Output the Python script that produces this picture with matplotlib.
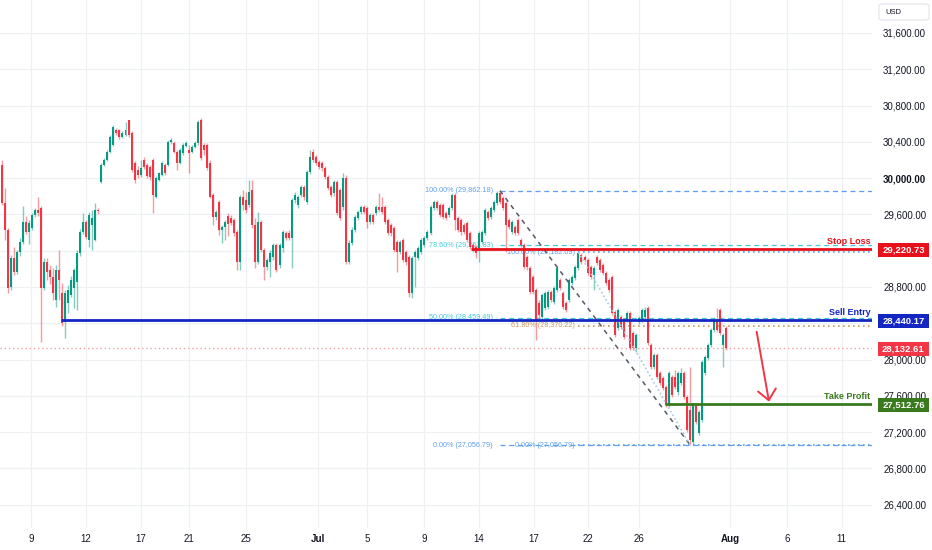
import numpy as np
import matplotlib
matplotlib.use("Agg")
import matplotlib.pyplot as plt
import matplotlib.transforms as mtransforms
from matplotlib.patches import Rectangle, FancyBboxPatch

plt.rcParams['font.family'] = ['Liberation Sans', 'DejaVu Sans']

# ---------------- data ----------------
opens = [30145, 29726, 29428, 28799, 29119, 28965, 29185, 29296, 29516, 29406,
         29450, 29593, 29648, 29670, 28788, 29075, 28987, 28910, 28656, 28987,
         28733, 28413, 28623, 28711, 28788, 28854, 29174, 29406, 29516, 29318,
         29483, 29318, 29648, 29957, 30145, 30200, 30288, 30365, 30531, 30531,
         30453, 30475, 30641, 30498, 30167, 30090, 30034, 30200, 30145, 30123,
         30200, 29792, 29979, 30034, 30145, 30145, 30398, 30387, 30288, 30167,
         30277, 30354, 30310, 30288, 30343, 30387, 30641, 30365, 30365, 30167,
         29814, 29571, 29737, 29428, 29461, 29582, 29560, 29538, 29406, 29075,
         29792, 29759, 29704, 29869, 29483, 29075, 29516, 29207, 29020, 29075,
         29130, 29262, 29042, 29229, 29395, 29395, 29340, 29759, 29704, 29814,
         29902, 29737, 30067, 30288, 30233, 30178, 30167, 30112, 30012, 29902,
         29836, 29957, 29869, 29681, 30001, 29075, 29285, 29428, 29560, 29626,
         29681, 29670, 29516, 29593, 29615, 29681, 29681, 29681, 29538, 29483,
         29450, 29296, 29185, 29318, 29185, 29130, 28733, 29130, 29119, 29185,
         29262, 29340, 29395, 29670, 29737, 29704, 29704, 29615, 29593, 29670,
         29814, 29560, 29538, 29483, 29505, 29395, 29262, 29240, 29229, 29296,
         29395, 29626, 29571, 29648, 29726, 29836, 29781, 29726, 29538, 29406,
         29461, 29538, 29318, 29262, 29130, 29009, 28910, 28766, 28623, 28468,
         28568, 28579, 28744, 28634, 28766, 28876, 28733, 28623, 28656, 28843,
         28899, 29009, 29152, 29130, 29097, 29020, 28932, 29130, 29097, 29042,
         28954, 28876, 28910, 28524, 28347, 28468, 28435, 28435, 28513, 28292,
         28127, 28413, 28435, 28468, 28568, 28160, 27917, 28049, 27851, 27796,
         27697, 27498, 27807, 27807, 27641, 27741, 27851, 27586, 27443, 27090,
         27498, 27189, 27333, 27851, 28016, 28160, 28325, 28435, 28546, 28160,
         28347]
highs = [30200, 29891, 29450, 29152, 29240, 29207, 29340, 29692, 29582, 29538,
         29615, 29670, 29792, 29692, 29119, 29119, 29042, 29009, 29042, 29207,
         28843, 28766, 28821, 28921, 29009, 29207, 29439, 29615, 29538, 29626,
         29648, 29726, 29670, 30167, 30222, 30310, 30475, 30586, 30553, 30542,
         30520, 30619, 30641, 30520, 30189, 30134, 30200, 30233, 30167, 30145,
         30222, 30023, 30067, 30189, 30167, 30420, 30442, 30409, 30310, 30332,
         30387, 30409, 30365, 30365, 30409, 30641, 30663, 30387, 30387, 30200,
         29836, 29648, 29759, 29483, 29538, 29615, 29593, 29560, 29428, 29814,
         29869, 29847, 29979, 29979, 29560, 29626, 29538, 29229, 29119, 29207,
         29285, 29285, 29285, 29428, 29417, 29428, 29781, 29847, 29814, 29924,
         29924, 30090, 30310, 30321, 30255, 30200, 30189, 30134, 30034, 29924,
         29979, 29979, 29891, 30056, 30034, 29318, 29461, 29593, 29648, 29704,
         29704, 29692, 29615, 29615, 29704, 29836, 29792, 29704, 29560, 29505,
         29472, 29318, 29318, 29340, 29207, 29152, 29141, 29207, 29251, 29340,
         29362, 29428, 29704, 29759, 29759, 29726, 29726, 29637, 29692, 29836,
         29836, 29582, 29560, 29505, 29527, 29417, 29285, 29262, 29417, 29428,
         29670, 29648, 29692, 29759, 29858, 29862.18, 29803, 29748, 29560, 29538,
         29483, 29560, 29340, 29285, 29152, 29031, 28932, 28788, 28656, 28733,
         28755, 28766, 28766, 28810, 29031, 28899, 28755, 28645, 28899, 28932,
         29042, 29182.09, 29174, 29152, 29119, 29042, 29031, 29152, 29119, 29064,
         28976, 28899, 28932, 28546, 28568, 28491, 28457, 28535, 28535, 28314,
         28292, 28479, 28568, 28579, 28590, 28182, 28071, 28071, 27873, 27818,
         27719, 27873, 27829, 27884, 27873, 27906, 27873, 27608, 27917, 27520,
         27520, 27443, 27994, 28049, 28182, 28347, 28457, 28568, 28568, 28292,
         28369]
lows = [29704, 29318, 28733, 28766, 28932, 28943, 29141, 29273, 29384, 29273,
        29428, 29571, 29582, 28193, 28766, 28876, 28832, 28656, 28579, 28656,
        28369, 28237, 28513, 28689, 28568, 28546, 29141, 29384, 29329, 29240,
        29207, 29307, 29604, 29946, 30134, 30189, 30277, 30354, 30475, 30431,
        30442, 30464, 30453, 30067, 29946, 30001, 30012, 30101, 30001, 29979,
        29615, 29781, 29968, 30023, 30034, 30134, 30376, 30277, 30090, 30156,
        30255, 30343, 30056, 30277, 30332, 30365, 30200, 30255, 30090, 29781,
        29483, 29538, 29373, 29285, 29318, 29362, 29483, 29362, 28987, 28987,
        29648, 29615, 29681, 29450, 29009, 29053, 29185, 28876, 28987, 28910,
        29097, 28965, 29009, 29185, 29318, 29318, 29009, 29726, 29670, 29792,
        29759, 29715, 30045, 30178, 30145, 30101, 30078, 29990, 29869, 29792,
        29803, 29593, 29538, 29648, 29053, 29053, 29262, 29406, 29538, 29604,
        29604, 29450, 29494, 29494, 29593, 29626, 29604, 29494, 29373, 29362,
        29185, 28965, 29163, 29075, 29042, 28689, 28678, 28799, 29097, 29163,
        29240, 29318, 29373, 29648, 29648, 29571, 29549, 29538, 29571, 29648,
        29428, 29406, 29373, 29384, 29296, 29218, 29185, 29119, 29075, 29273,
        29373, 29538, 29549, 29626, 29704, 29715, 29648, 29185, 29439, 29384,
        29373, 29373, 29240, 28998, 28987, 28722, 28722, 28215, 28457, 28446,
        28546, 28557, 28634, 28612, 28744, 28766, 28557, 28524, 28634, 28821,
        28876, 28987, 29053, 29075, 28932, 28888, 28766, 29042, 28965, 28932,
        28821, 28744, 28491, 28248, 28325, 28336, 28226, 28413, 28105, 28105,
        28083, 28391, 28413, 28435, 28160, 27895, 27895, 27785, 27719, 27664,
        27476, 27476, 27586, 27675, 27608, 27719, 27564, 27200, 27056.79, 27068,
        27289, 27167, 27311, 27829, 27994, 28138, 28303, 28303, 28270, 27917,
        28105]
closes = [29726, 29428, 28788, 29119, 28965, 29185, 29296, 29516, 29406, 29505,
          29593, 29648, 29615, 28788, 29075, 28965, 28910, 28733, 28987, 28876,
          28402, 28733, 28766, 28876, 28987, 29174, 29406, 29516, 29351, 29593,
          29560, 29648, 29637, 30145, 30200, 30288, 30453, 30564, 30498, 30453,
          30498, 30531, 30475, 30090, 29979, 30034, 30112, 30123, 30023, 30012,
          29814, 30001, 30056, 30167, 30056, 30398, 30420, 30288, 30167, 30310,
          30365, 30387, 30277, 30343, 30387, 30619, 30222, 30310, 30112, 29792,
          29571, 29626, 29428, 29461, 29516, 29494, 29505, 29395, 29075, 29792,
          29704, 29648, 29847, 29483, 29075, 29516, 29207, 29020, 29097, 29174,
          29262, 28987, 29262, 29406, 29340, 29340, 29759, 29814, 29792, 29902,
          29792, 30067, 30233, 30200, 30167, 30123, 30112, 30012, 29891, 29814,
          29957, 29615, 29560, 30001, 29075, 29285, 29428, 29571, 29626, 29681,
          29626, 29516, 29593, 29516, 29681, 29648, 29626, 29516, 29395, 29395,
          29207, 29185, 29296, 29097, 29075, 28733, 29119, 29185, 29229, 29318,
          29340, 29406, 29681, 29737, 29670, 29593, 29571, 29560, 29670, 29814,
          29538, 29428, 29406, 29406, 29318, 29240, 29207, 29174, 29395, 29406,
          29648, 29560, 29670, 29737, 29836, 29737, 29670, 29483, 29461, 29516,
          29395, 29395, 29262, 29020, 29020, 28744, 28744, 28435, 28491, 28711,
          28733, 28744, 28656, 28788, 29009, 28788, 28579, 28546, 28876, 28910,
          29020, 29170, 29075, 29097, 28954, 28910, 29009, 29064, 28987, 28954,
          28843, 28766, 28513, 28270, 28546, 28358, 28248, 28513, 28127, 28127,
          28270, 28457, 28546, 28546, 28182, 27917, 28049, 27807, 27741, 27686,
          27498, 27851, 27608, 27697, 27851, 27851, 27586, 27222, 27112, 27520,
          27311, 27421, 27972, 28027, 28160, 28325, 28435, 28325, 28292, 28270,
          28132.61]

x_tick_pos = [9.7, 27.9, 46.1, 62.0, 80.9, 104.7, 120.9, 139.8, 158.0, 176.3,
              194.1, 211.0, 241.2, 260.0, 278.2]
x_tick_labels = ['9', '12', '17', '21', '25', 'Jul', '5', '9', '14', '17',
                 '22', '26', 'Aug', '6', '11']
y_ticks = [26400, 26800, 27200, 27600, 28000, 28400, 28800, 29200, 29600,
           30000, 30400, 30800, 31200, 31600]
# tick labels that the price tags cover completely in the chart
y_ticks_hidden = [28400, 29200]

stop_loss = 29220.73
sell_entry = 28440.17
take_profit = 27512.76
last_price = 28132.61

fib1_levels = [29862.18, 29261.83, 28459.49, 27056.79]
fib1_names = ['100.00%', '78.60%', '50.00%', '0.00%']
fib2_levels = [29182.09, 28370.22, 27056.79]
fib2_names = ['100.00%', '61.80%', '0.00%']
fib1_bars = (165, 228)
fib2_bars = (191, 228)

arrow_from = (250.0, 28307.0)
arrow_to = (254.1, 27535.0)

# ---------------- styling constants ----------------
W, H = 932, 550
PLOT_R, PLOT_B = 872, 528
UP, DN = '#089981', '#f23645'
SL_C, SE_C, TP_C = '#e8101a', '#1326c2', '#3a7a1e'
TXT = '#131722'

fig = plt.figure(figsize=(W / 100, H / 100), dpi=100)
fig.patch.set_facecolor('white')
ax = fig.add_axes([0, (H - PLOT_B) / H, PLOT_R / W, PLOT_B / H])
ax.set_facecolor('white')
for s in ax.spines.values():
    s.set_visible(False)

XMIN, XMAX = -0.56, 288.2
YMIN, YMAX = 26142.6, 31963.8
ax.set_xlim(XMIN, XMAX)
ax.set_ylim(YMIN, YMAX)
ppx = (YMAX - YMIN) / PLOT_B  # price units per pixel

# ticks / grid
ax.yaxis.tick_right()
ax.set_yticks(y_ticks)
ax.set_yticklabels(['' if v in y_ticks_hidden else f"{v:,.2f}" for v in y_ticks])
ax.set_xticks(x_tick_pos)
ax.set_xticklabels(x_tick_labels)
ax.tick_params(axis='y', length=0, pad=8.0, labelsize=7, labelcolor=TXT)
ax.tick_params(axis='x', length=0, pad=4.0, labelsize=7, labelcolor=TXT)
for lab in ax.get_yticklabels():
    if lab.get_text() == '30,000.00':
        lab.set_fontweight('bold')
for lab in ax.get_xticklabels():
    if lab.get_text() in ('Jul', 'Aug'):
        lab.set_fontweight('bold')
ax.grid(True, color='#eef0f4', linewidth=0.9)
ax.set_axisbelow(True)

# candles
o = np.array(opens, float)
c = np.array(closes, float)
hi = np.maximum(np.array(highs, float), np.maximum(o, c))
lo = np.minimum(np.array(lows, float), np.minimum(o, c))
idx = np.arange(len(c))
cols = np.where(c >= o, UP, DN)
ax.vlines(idx, lo, hi, colors=cols, linewidth=1.0, alpha=0.5, zorder=3)
ax.bar(idx, np.maximum(np.abs(c - o), 1.2 * ppx), bottom=np.minimum(o, c),
       width=0.66, color=cols, linewidth=0, zorder=4)

# current price dotted line
ax.axhline(last_price, color='#f4a0a6', linestyle=(0, (1, 2)), linewidth=1.0, zorder=2)

# fib 1 (dashed)
fib1_cols = ['#5d9ff0', '#45c8de', '#45c8de', '#5d9ff0']
for lvl, name, col in zip(fib1_levels, fib1_names, fib1_cols):
    ax.hlines(lvl, fib1_bars[0], XMAX, colors=col, linestyles=(0, (4, 3)),
              linewidth=0.9, zorder=2)
    ax.annotate(f"{name} ({lvl:,.2f})", xy=(fib1_bars[0], lvl), xytext=(-5, 0),
                textcoords='offset points', ha='right', va='center',
                fontsize=5.2, color=col, zorder=2)
ax.plot(fib1_bars, [fib1_levels[0], fib1_levels[-1]], color='#555a66',
        linestyle=(0, (3, 3)), linewidth=1.1, zorder=5)

# fib 2 (dotted)
fib2_cols = ['#5d9ff0', '#c99a62', '#5d9ff0']
for lvl, name, col in zip(fib2_levels, fib2_names, fib2_cols):
    ax.hlines(lvl, fib2_bars[0], XMAX, colors=col, linestyles=(0, (1, 2)),
              linewidth=1.2, zorder=2)
    ax.annotate(f"{name} ({lvl:,.2f})", xy=(fib2_bars[0], lvl), xytext=(-2.5, 0),
                textcoords='offset points', ha='right', va='center',
                fontsize=5.2, color=col, zorder=2)
ax.plot(fib2_bars, [fib2_levels[0], fib2_levels[-1]], color='#a9cbe8',
        linestyle=(0, (1, 1.5)), linewidth=1.2, zorder=5)

# trade levels
blend = mtransforms.blended_transform_factory(ax.transAxes, ax.transData)
for price, start, col, name in [(stop_loss, 155.5, SL_C, 'Stop Loss'),
                                (sell_entry, 19.7, SE_C, 'Sell Entry'),
                                (take_profit, 219.8, TP_C, 'Take Profit')]:
    ax.hlines(price, start, XMAX, colors=col, linewidth=2.0, zorder=8)
    ax.annotate(name, xy=(1.0, price), xycoords=blend, xytext=(-1, 3.3),
                textcoords='offset points', ha='right', va='baseline',
                fontsize=6.5, fontweight='bold', color=col, zorder=9)

# arrow
ax.annotate('', xy=arrow_to, xytext=arrow_from,
            arrowprops=dict(arrowstyle='->,head_length=0.75,head_width=0.65',
                            color='#f23645', lw=1.4, shrinkA=0, shrinkB=0),
            zorder=12)

# right-axis price tags
def tag(price, color, text):
    h = 14 * ppx
    ax.add_patch(Rectangle((1.0 + 6 / PLOT_R, price - h / 2 - ppx), 51 / PLOT_R, h,
                           transform=blend, clip_on=False, facecolor=color,
                           edgecolor='none', zorder=20))
    ax.text(1.0 + 31.5 / PLOT_R, price - ppx, text, transform=blend, ha='center',
            va='center', color='white', fontsize=6.8, fontweight='bold',
            zorder=21, clip_on=False)

tag(stop_loss, SL_C, f"{stop_loss:,.2f}")
tag(sell_entry, SE_C, f"{sell_entry:,.2f}")
tag(last_price, DN, f"{last_price:,.2f}")
tag(take_profit, TP_C, f"{take_profit:,.2f}")

# USD box
fig.add_artist(FancyBboxPatch((879 / W, 1 - 20 / H), 50 / W, 16 / H,
                              boxstyle='round,pad=0,rounding_size=0.004',
                              transform=fig.transFigure, facecolor='white',
                              edgecolor='#e0e3eb', linewidth=0.8))
fig.text(885 / W, 1 - 12 / H, 'USD', fontsize=5.5, color=TXT, ha='left', va='center')

fig.savefig('out.png', dpi=100)
